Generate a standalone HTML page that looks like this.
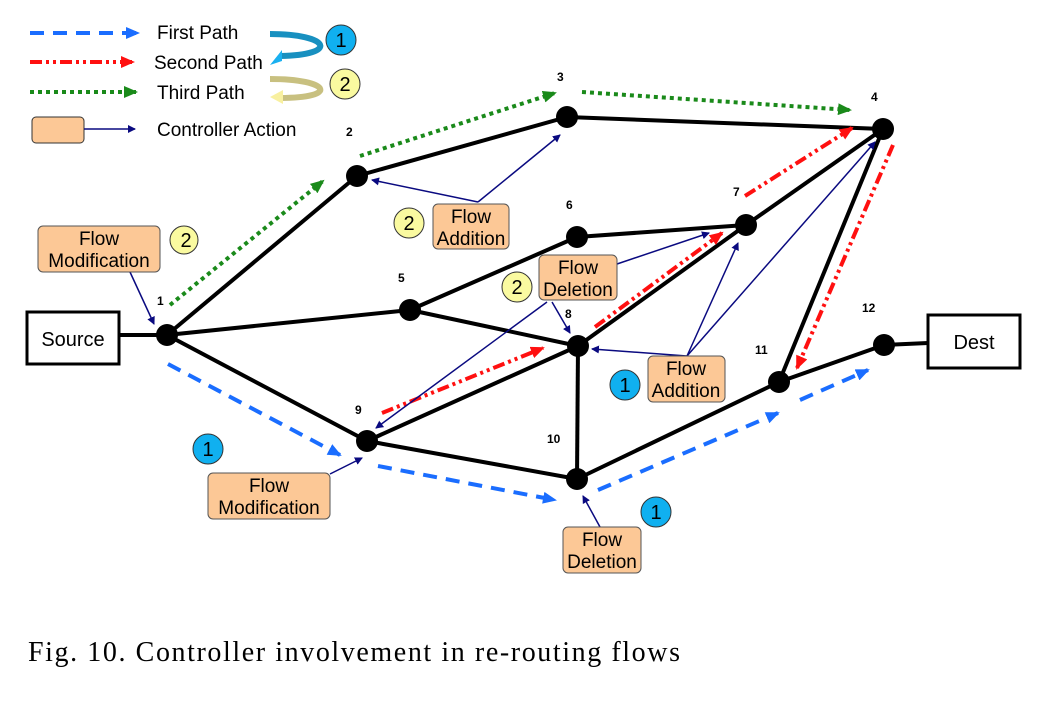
<!DOCTYPE html>
<html><head><style>
body{margin:0;background:#fff}
svg{display:block}
text{font-family:"Liberation Sans",sans-serif}
</style></head><body>
<svg width="1043" height="701" viewBox="0 0 1043 701">
<defs>
<marker id="mb" markerWidth="8" markerHeight="8" refX="7" refY="4" orient="auto" markerUnits="userSpaceOnUse"><path d="M0,0 L8,4 L0,8 z" fill="#0a0a80"/></marker>
<marker id="bl" markerWidth="14" markerHeight="12" refX="12" refY="6" orient="auto" markerUnits="userSpaceOnUse"><path d="M0,0 L14,6 L0,12 z" fill="#1a6dff"/></marker>
<marker id="rd" markerWidth="14" markerHeight="12" refX="12" refY="6" orient="auto" markerUnits="userSpaceOnUse"><path d="M0,0 L14,6 L0,12 z" fill="#ff1010"/></marker>
<marker id="gr" markerWidth="14" markerHeight="12" refX="12" refY="6" orient="auto" markerUnits="userSpaceOnUse"><path d="M0,0 L14,6 L0,12 z" fill="#1a8a1a"/></marker>
</defs>
<line x1="30" y1="33" x2="138" y2="33" stroke="#1a6dff" stroke-width="4" stroke-dasharray="14,9" marker-end="url(#bl)"/>
<line x1="30" y1="62" x2="133" y2="62" stroke="#ff1010" stroke-width="4" stroke-dasharray="12,4,3,4,3,4" marker-end="url(#rd)"/>
<line x1="30" y1="92" x2="136" y2="92" stroke="#1a8a1a" stroke-width="4" stroke-dasharray="4,4" marker-end="url(#gr)"/>
<rect x="32" y="117" width="52" height="26" rx="4" fill="#fcc896" stroke="#333"/>
<line x1="84" y1="129" x2="135" y2="129" stroke="#0a0a80" stroke-width="1.5" marker-end="url(#mb)"/>
<g font-size="19" fill="#000">
<text x="157" y="39">First Path</text><text x="154" y="69">Second Path</text><text x="157" y="99">Third Path</text><text x="157" y="136">Controller Action</text>
</g>
<path d="M270,34 C330,34 340,55 280,56" fill="none" stroke="#1890c0" stroke-width="6"/>
<path d="M270,65 L282,50 L282,61 z" fill="#1ab0f0"/>
<path d="M270,79 C330,79 340,98 280,98" fill="none" stroke="#c8c080" stroke-width="6"/>
<path d="M270,97 L283,90 L283,104 z" fill="#f8f0a0"/>
<g stroke="#000" stroke-width="4" fill="none">
<line x1="119" y1="335" x2="167" y2="335"/>
<line x1="167" y1="335" x2="357" y2="176"/>
<line x1="357" y1="176" x2="567" y2="117"/>
<line x1="567" y1="117" x2="883" y2="129"/>
<line x1="167" y1="335" x2="410" y2="310"/>
<line x1="410" y1="310" x2="577" y2="237"/>
<line x1="577" y1="237" x2="746" y2="225"/>
<line x1="410" y1="310" x2="578" y2="346"/>
<line x1="167" y1="335" x2="367" y2="441"/>
<line x1="367" y1="441" x2="578" y2="346"/>
<line x1="578" y1="346" x2="746" y2="225"/>
<line x1="746" y1="225" x2="883" y2="129"/>
<line x1="367" y1="441" x2="577" y2="479"/>
<line x1="578" y1="346" x2="577" y2="479"/>
<line x1="577" y1="479" x2="779" y2="382"/>
<line x1="779" y1="382" x2="883" y2="129"/>
<line x1="779" y1="382" x2="884" y2="345"/>
<line x1="884" y1="345" x2="928" y2="343"/>
</g>
<g fill="#000">
<ellipse cx="167" cy="335" rx="11" ry="11"/><ellipse cx="357" cy="176" rx="11" ry="11"/><ellipse cx="567" cy="117" rx="11" ry="11"/><ellipse cx="883" cy="129" rx="11" ry="11"/><ellipse cx="410" cy="310" rx="11" ry="11"/><ellipse cx="577" cy="237" rx="11" ry="11"/><ellipse cx="746" cy="225" rx="11" ry="11"/><ellipse cx="578" cy="346" rx="11" ry="11"/><ellipse cx="367" cy="441" rx="11" ry="11"/><ellipse cx="577" cy="479" rx="11" ry="11"/><ellipse cx="779" cy="382" rx="11" ry="11"/><ellipse cx="884" cy="345" rx="11" ry="11"/>
</g>
<rect x="27" y="312" width="92" height="52" fill="#fff" stroke="#000" stroke-width="3"/>
<text x="73" y="346" font-size="20" text-anchor="middle">Source</text>
<rect x="928" y="315" width="92" height="53" fill="#fff" stroke="#000" stroke-width="3"/>
<text x="974" y="349" font-size="20" text-anchor="middle">Dest</text>
<g stroke-width="4" fill="none">
<line x1="170" y1="305" x2="323" y2="181" stroke="#1a8a1a" stroke-dasharray="4,4" marker-end="url(#gr)"/>
<line x1="360" y1="156" x2="555" y2="93" stroke="#1a8a1a" stroke-dasharray="4,4" marker-end="url(#gr)"/>
<line x1="582" y1="92" x2="850" y2="110" stroke="#1a8a1a" stroke-dasharray="4,4" marker-end="url(#gr)"/>
<line x1="382" y1="413" x2="543" y2="348" stroke="#ff1010" stroke-dasharray="12,4,3,4,3,4" marker-end="url(#rd)"/>
<line x1="595" y1="327" x2="722" y2="233" stroke="#ff1010" stroke-dasharray="12,4,3,4,3,4" marker-end="url(#rd)"/>
<line x1="745" y1="196" x2="852" y2="128" stroke="#ff1010" stroke-dasharray="12,4,3,4,3,4" marker-end="url(#rd)"/>
<line x1="893" y1="145" x2="797" y2="368" stroke="#ff1010" stroke-dasharray="12,4,3,4,3,4" marker-end="url(#rd)"/>
<line x1="168" y1="364" x2="340" y2="455" stroke="#1a6dff" stroke-dasharray="14,9" marker-end="url(#bl)"/>
<line x1="378" y1="466" x2="555" y2="500" stroke="#1a6dff" stroke-dasharray="14,9" marker-end="url(#bl)"/>
<line x1="598" y1="490" x2="778" y2="413" stroke="#1a6dff" stroke-dasharray="14,9" marker-end="url(#bl)"/>
<line x1="800" y1="400" x2="868" y2="370" stroke="#1a6dff" stroke-dasharray="14,9" marker-end="url(#bl)"/>
</g>
<g stroke="#0a0a80" stroke-width="1.5" fill="none" marker-end="url(#mb)">
<line x1="130" y1="272" x2="154" y2="324"/>
<polyline points="478,202 372,180"/>
<line x1="478" y1="202" x2="560" y2="135"/>
<line x1="617" y1="264" x2="709" y2="233"/>
<line x1="552" y1="302" x2="570" y2="333"/>
<line x1="547" y1="302" x2="376" y2="428"/>
<line x1="687" y1="356" x2="592" y2="349"/>
<line x1="687" y1="356" x2="738" y2="243"/>
<line x1="687" y1="356" x2="875" y2="142"/>
<line x1="330" y1="474" x2="362" y2="458"/>
<line x1="600" y1="527" x2="583" y2="496"/>
</g>
<g fill="#fcc896" stroke="#555" stroke-width="1">
<rect x="38" y="226" width="122" height="46" rx="5"/>
<rect x="433" y="204" width="76" height="45" rx="5"/>
<rect x="539" y="255" width="78" height="45" rx="5"/>
<rect x="648" y="356" width="77" height="46" rx="5"/>
<rect x="208" y="473" width="122" height="46" rx="5"/>
<rect x="563" y="527" width="78" height="46" rx="5"/>
</g>
<g font-size="19" text-anchor="middle" fill="#000">
<text x="99" y="245">Flow</text><text x="99" y="267">Modification</text>
<text x="471" y="223">Flow</text><text x="471" y="245">Addition</text>
<text x="578" y="274">Flow</text><text x="578" y="296">Deletion</text>
<text x="686" y="375">Flow</text><text x="686" y="397">Addition</text>
<text x="269" y="492">Flow</text><text x="269" y="514">Modification</text>
<text x="602" y="546">Flow</text><text x="602" y="568">Deletion</text>
</g>
<g stroke="#333" stroke-width="1">
<circle cx="341" cy="40" r="15" fill="#10b0f0"/><circle cx="345" cy="84" r="15" fill="#fafaa0"/>
<circle cx="184" cy="240" r="14" fill="#fafaa0"/><circle cx="409" cy="223" r="15" fill="#fafaa0"/><circle cx="517" cy="287" r="15" fill="#fafaa0"/>
<circle cx="208" cy="449" r="15" fill="#10b0f0"/><circle cx="625" cy="385" r="15" fill="#10b0f0"/><circle cx="656" cy="512" r="15" fill="#10b0f0"/>
</g>
<g font-size="20" text-anchor="middle" fill="#000">
<text x="341" y="47">1</text><text x="345" y="91">2</text><text x="186" y="247">2</text><text x="409" y="230">2</text><text x="517" y="294">2</text>
<text x="208" y="456">1</text><text x="625" y="392">1</text><text x="656" y="519">1</text>
</g>
<g font-size="12" font-weight="bold" fill="#000">
<text x="157" y="305">1</text><text x="346" y="136">2</text><text x="557" y="81">3</text><text x="871" y="101">4</text><text x="398" y="282">5</text><text x="566" y="209">6</text><text x="733" y="196">7</text><text x="565" y="318">8</text><text x="355" y="414">9</text><text x="547" y="443">10</text><text x="755" y="354">11</text><text x="862" y="312">12</text>
</g>
<text x="28" y="661" font-size="28" fill="#000" style="font-family:'Liberation Serif',serif" textLength="652" lengthAdjust="spacing">Fig. 10.    Controller involvement in re-routing flows</text>
</svg>
</body></html>
